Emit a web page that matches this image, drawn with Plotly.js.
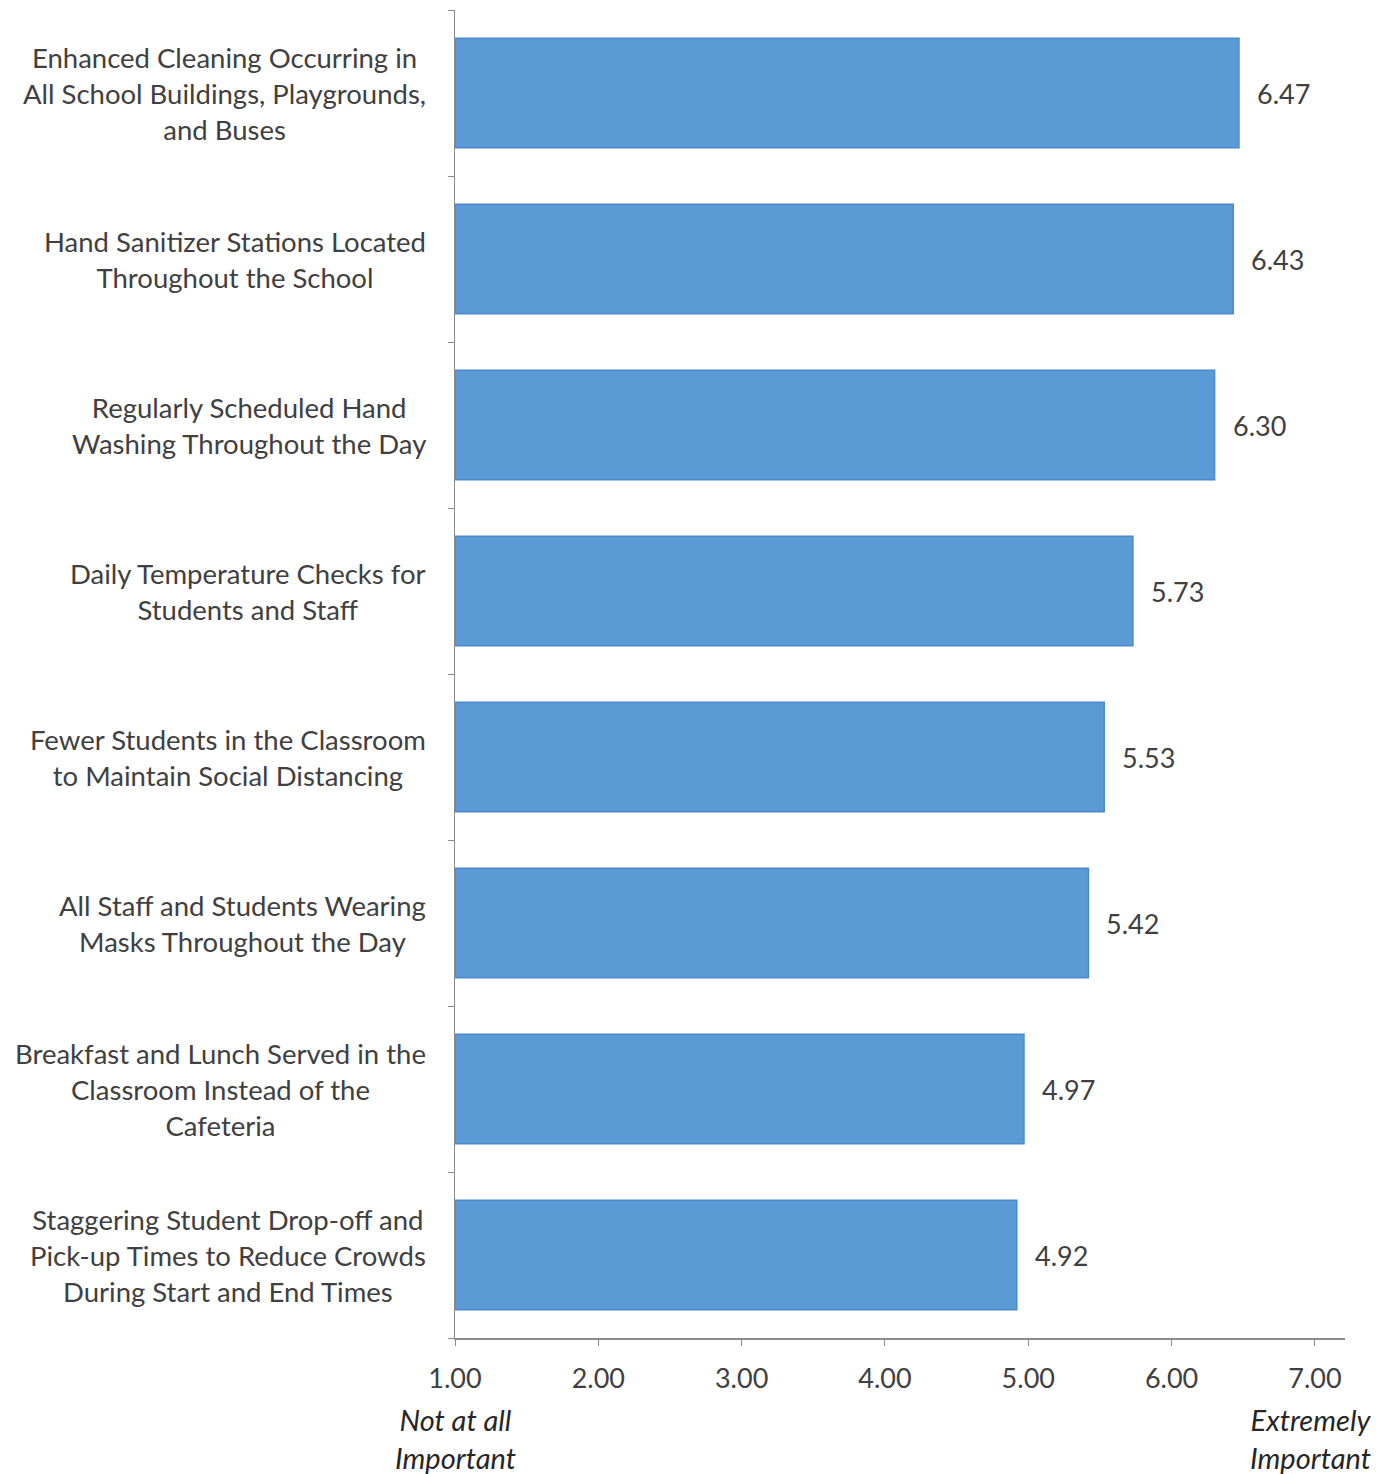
<!DOCTYPE html>
<html>
<head>
<meta charset="utf-8">
<script src="https://cdn.plot.ly/plotly-3.0.1.min.js"></script>
<style>
  html, body { margin: 0; padding: 0; background: #ffffff; }
  #chart { width: 1383px; height: 1474px; }
</style>
</head>
<body>
<div id="chart"></div>
<script>
// Safety measures ranked by mean importance (1 = not at all, 7 = extremely)
const measures = [
  "Enhanced Cleaning Occurring in<br>All School Buildings, Playgrounds,<br>and Buses",
  "Hand Sanitizer Stations Located<br>Throughout the School",
  "Regularly Scheduled Hand<br>Washing Throughout the Day",
  "Daily Temperature Checks for<br>Students and Staff",
  "Fewer Students in the Classroom<br>to Maintain Social Distancing",
  "All Staff and Students Wearing<br>Masks Throughout the Day",
  "Breakfast and Lunch Served in the<br>Classroom Instead of the<br>Cafeteria",
  "Staggering Student Drop-off and<br>Pick-up Times to Reduce Crowds<br>During Start and End Times"
];
const meanScores = [6.47, 6.43, 6.30, 5.73, 5.53, 5.42, 4.97, 4.92];
const scaleTicks = [1, 2, 3, 4, 5, 6, 7];
const scaleTickText = ["1.00", "2.00", "3.00", "4.00", "5.00", "6.00", "7.00"];
const scaleEnds = [
  { value: 1, text: "Not at all<br>Important" },
  { value: 7, text: "Extremely<br>Important" }
];

const FONT = "Lato, 'Open Sans', sans-serif";
const TEXT_COLOR = "#404040";

// Bars start at the bottom of the 1-7 scale
const trace = {
  type: "bar",
  orientation: "h",
  y: measures.map((_, i) => i),
  x: meanScores.map(v => v - 1),
  base: 1,
  marker: { color: "#5b9bd5", line: { color: "#4a89cf", width: 1.5 } },
  hoverinfo: "skip",
  showlegend: false
};

const annotations = [];

// Category labels, centred line by line, to the left of the axis
measures.forEach((m, i) => {
  annotations.push({
    xref: "paper", yref: "y",
    x: 0, y: i,
    xshift: -27,
    xanchor: "right", yanchor: "middle",
    align: "center",
    text: m,
    showarrow: false,
    font: { family: FONT, size: 27.5, color: TEXT_COLOR }
  });
});

// Value labels just past the end of each bar
meanScores.forEach((v, i) => {
  annotations.push({
    xref: "x", yref: "y",
    x: v, y: i,
    xshift: 16,
    xanchor: "left", yanchor: "middle",
    text: v.toFixed(2),
    showarrow: false,
    font: { family: FONT, size: 27, color: TEXT_COLOR }
  });
});

// Scale anchors under the end ticks
scaleEnds.forEach(e => {
  annotations.push({
    xref: "x", yref: "paper",
    x: e.value, y: 0,
    xshift: e.value === 7 ? -4 : 0,
    yshift: -62,
    xanchor: "center", yanchor: "top",
    align: "center",
    text: "<i>" + e.text + "</i>",
    showarrow: false,
    font: { family: FONT, size: 29, color: "#262626" }
  });
});

const layout = {
  width: 1383,
  height: 1474,
  margin: { l: 455, r: 38, t: 10, b: 136 },
  paper_bgcolor: "#ffffff",
  plot_bgcolor: "#ffffff",
  bargap: 0.34,
  xaxis: {
    range: [1, 7.21],
    tickvals: scaleTicks,
    ticktext: scaleTickText,
    showgrid: false,
    zeroline: false,
    showline: true,
    linecolor: "#8c8c8c",
    linewidth: 1.5,
    ticks: "outside",
    ticklen: 6,
    tickcolor: "#8c8c8c",
    tickfont: { family: FONT, size: 27, color: TEXT_COLOR },
    ticklabelstandoff: 10,
    fixedrange: true
  },
  yaxis: {
    type: "linear",
    range: [7.5, -0.5],
    tickvals: [-0.5, 0.5, 1.5, 2.5, 3.5, 4.5, 5.5, 6.5, 7.5],
    showticklabels: false,
    showgrid: false,
    zeroline: false,
    showline: true,
    linecolor: "#8c8c8c",
    linewidth: 1.5,
    ticks: "outside",
    ticklen: 6,
    tickcolor: "#8c8c8c",
    fixedrange: true
  },
  annotations: annotations,
  font: { family: FONT, color: TEXT_COLOR }
};

Plotly.newPlot("chart", [trace], layout, { displayModeBar: false, staticPlot: true });
</script>
</body>
</html>
